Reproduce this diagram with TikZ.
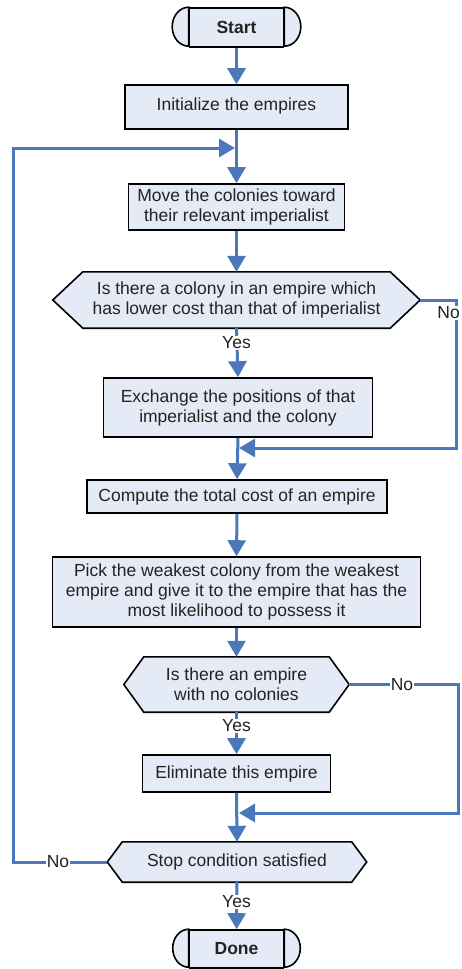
\documentclass[tikz,border=0pt]{standalone}
\usepackage{fontspec}
\setmainfont{Liberation Sans}
\usetikzlibrary{arrows.meta,backgrounds}

\definecolor{flowblue}{RGB}{74,120,186}
\definecolor{boxfill}{RGB}{228,235,246}
\definecolor{inkgray}{RGB}{35,35,35}

\newcommand{\flowfont}{\fontsize{17.5}{20}\selectfont}

% hexagonal decision outline behind a decision node: #1 node, #2 point inset
\newcommand{\hexagonfor}[2]{%
  \begin{pgfonlayer}{background}
    \path[outline] ([xshift=#2]#1.north west) -- ([xshift=-#2]#1.north east)
      -- (#1.east) -- ([xshift=-#2]#1.south east)
      -- ([xshift=#2]#1.south west) -- (#1.west) -- cycle;
  \end{pgfonlayer}}

% rounded caps of a terminator: #1 node, #2 cap width, #3 half height
\newcommand{\capsfor}[3]{%
  \path[outline] (#1.north west) arc[start angle=90, end angle=270,
      x radius=#2, y radius=#3] -- cycle;
  \path[outline] (#1.north east) arc[start angle=90, end angle=-90,
      x radius=#2, y radius=#3] -- cycle;}

\tikzset{
  outline/.style={draw=black, line width=1.6pt, fill=boxfill, line join=miter},
  procbox/.style={outline, rectangle, inner sep=0pt, align=center,
    text=inkgray, font=\flowfont},
  decnode/.style={rectangle, inner sep=0pt, align=center,
    text=inkgray, font=\flowfont},
  termbox/.style={procbox, font=\fontsize{17.5}{20}\selectfont\bfseries,
    minimum width=94pt},
  flow/.style={draw=flowblue, line width=3pt,
    -{Triangle[length=16pt,width=18pt]}},
  answer/.style={fill=white, inner sep=1pt, text=inkgray, font=\flowfont},
}

\begin{document}
\begin{tikzpicture}[x=1pt,y=1pt]
  \useasboundingbox (0,0) rectangle (461,-969);
  \begin{pgfonlayer}{background}
    \fill[white] (0,0) rectangle (461,-969);
  \end{pgfonlayer}

  % terminators and steps
  \node[termbox, minimum height=39pt] (start) at (236.5,-27.5) {Start};
  \capsfor{start}{16.5pt}{19.5pt}

  \node[procbox, minimum width=223pt, minimum height=44pt] (init)
    at (236.5,-107) {\raisebox{6pt}{Initialize the empires}};
  \node[procbox, minimum width=216pt, minimum height=46pt] (move)
    at (236.5,-207) {Move the colonies toward\\their relevant imperialist};
  \node[decnode, minimum width=367pt, minimum height=56pt] (dec1)
    at (236.5,-300) {Is there a colony in an empire which\\has lower cost than that of imperialist};
  \hexagonfor{dec1}{30pt}
  \node[procbox, minimum width=269pt, minimum height=59pt] (exch)
    at (238,-407.5) {Exchange the positions of that\\imperialist and the colony};
  \node[procbox, minimum width=300pt, minimum height=33pt] (comp)
    at (237,-496.5) {Compute the total cost of an empire};
  \node[procbox, minimum width=368pt, minimum height=70pt] (pick)
    at (236.5,-592) {Pick the weakest colony from the weakest\\empire and give it to the empire that has the\\most likelihood to possess it};
  \node[decnode, minimum width=225pt, minimum height=55pt] (dec2)
    at (236.5,-684.5) {Is there an empire\\with no colonies};
  \hexagonfor{dec2}{20pt}
  \node[procbox, minimum width=188pt, minimum height=37pt] (elim)
    at (236.5,-773.5) {Eliminate this empire};
  \node[decnode, minimum width=259pt, minimum height=40pt] (dec3)
    at (237,-862) {Stop condition satisfied};
  \hexagonfor{dec3}{15pt}
  \node[termbox, minimum height=38pt] (done) at (236.5,-949) {Done};
  \capsfor{done}{16pt}{19pt}

  % bends of the return paths
  \coordinate (loopbot) at (13,-862);
  \coordinate (looptop) at (13,-148);
  \coordinate (loopin) at (235,-148);
  \coordinate (no1a) at (456,-300);
  \coordinate (no1b) at (456,-448);
  \coordinate (no1in) at (239,-448);
  \coordinate (no2a) at (458,-684.5);
  \coordinate (no2b) at (458,-813);
  \coordinate (no2in) at (239,-813);

  % main flow
  \draw[flow] (start) -- (init);
  \draw[flow] (init) -- (move);
  \draw[flow] (move) -- (dec1);
  \draw[flow] (dec1.south) -- (exch.north);
  \draw[flow] (exch.south) -- (comp.north);
  \draw[flow] (comp.south) -- (pick.north);
  \draw[flow] (pick) -- (dec2);
  \draw[flow] (dec2) -- (elim);
  \draw[flow] (elim.south) -- (dec3.north);
  \draw[flow] (dec3) -- (done);

  % return paths
  \draw[flow] (dec1.east) -- (no1a) -- (no1b) -- (no1in);
  \draw[flow] (dec2.east) -- (no2a) -- (no2b) -- (no2in);
  \draw[flow] (dec3.west) -- (loopbot) -- (looptop) -- (loopin);

  % answers
  \node[answer] (yes1) at (236.5,-343) {Yes};
  \node[answer] (yes2) at (236.5,-726) {Yes};
  \node[answer] (yes3) at (236.5,-902) {Yes};
  \node[answer, anchor=east] (ans1) at (461,-313) {No};
  \node[answer] (ans2) at (402,-684.5) {No};
  \node[answer] (ans3) at (58,-862) {No};
\end{tikzpicture}
\end{document}
